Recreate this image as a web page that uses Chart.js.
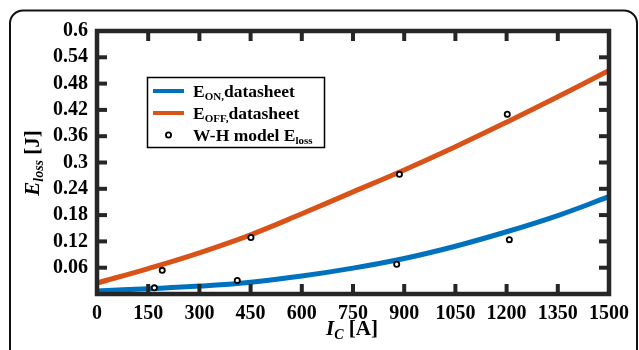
<!DOCTYPE html>
<html>
<head>
<meta charset="utf-8">
<script src="https://cdn.jsdelivr.net/npm/chart.js@4.4.1/dist/chart.umd.min.js"></script>
<style>
  html, body { margin: 0; padding: 0; background: #ffffff; }
  #wrap { width: 639px; height: 350px; position: relative; }
</style>
</head>
<body>
<div id="wrap"><canvas id="c" width="639" height="350"></canvas></div>
<script>
// Collector current grid [A] and switching-loss curves [J]
const currentGrid   = [0, 150, 300, 450, 600, 750, 900, 1050, 1200, 1350, 1500];
const eOnDatasheet  = [0.007, 0.012, 0.018, 0.027, 0.041, 0.059, 0.081, 0.109, 0.142, 0.179, 0.222];
const eOffDatasheet = [0.025, 0.058, 0.094, 0.135, 0.183, 0.233, 0.283, 0.336, 0.392, 0.450, 0.510];

// W-H model loss estimates
const whCurrent = [168, 191, 411, 451, 878, 886, 1208, 1202];
const whLoss    = [0.014, 0.054, 0.031, 0.129, 0.068, 0.273, 0.124, 0.410];

// Axis ticks
const xTicks = [0, 150, 300, 450, 600, 750, 900, 1050, 1200, 1350, 1500];
const yTicks = [0, 0.06, 0.12, 0.18, 0.24, 0.3, 0.36, 0.42, 0.48, 0.54, 0.6];

const BLUE = '#0072BD';
const ORANGE = '#D95319';
const AXIS = '#262626';
const SERIF = "'Liberation Serif', 'Times New Roman', serif";

function toXY(xs, ys) { return xs.map((x, i) => ({ x: x, y: ys[i] })); }

// Draws a run of text pieces (for subscripts)
function drawRich(ctx, parts, x, y, align) {
  let total = 0;
  parts.forEach(p => { ctx.font = p.font; p.w = ctx.measureText(p.text).width; total += p.w; });
  let cx = align === 'left' ? x : x - total / 2;
  ctx.textAlign = 'left';
  ctx.textBaseline = 'alphabetic';
  parts.forEach(p => {
    ctx.font = p.font;
    ctx.fillText(p.text, cx, y + (p.dy || 0));
    cx += p.w;
  });
}

const framePlugin = {
  id: 'frame',
  beforeDraw(chart) {
    const ctx = chart.ctx;
    ctx.save();
    ctx.fillStyle = '#ffffff';
    ctx.fillRect(0, 0, chart.width, chart.height);
    // outer rounded panel
    ctx.strokeStyle = '#111111';
    ctx.lineWidth = 2;
    ctx.beginPath();
    ctx.roundRect(10, 10.5, 627, 380, 13);
    ctx.stroke();
    ctx.restore();
  },
  afterDatasetsDraw(chart) {
    const ctx = chart.ctx;
    const xs = chart.scales.x, ys = chart.scales.y;
    const L = xs.getPixelForValue(0), R = xs.getPixelForValue(1500);
    const T = ys.getPixelForValue(0.6), B = ys.getPixelForValue(0);
    ctx.save();
    ctx.strokeStyle = AXIS;
    ctx.fillStyle = AXIS;
    // inward tick marks on all four sides
    const tl = 10, tw = 4;
    xTicks.forEach(v => {
      if (v === 0 || v === 1500) return;
      const px = xs.getPixelForValue(v);
      ctx.fillRect(px - tw / 2, B - tl, tw, tl);
      ctx.fillRect(px - tw / 2, T, tw, tl);
    });
    yTicks.forEach(v => {
      if (v === 0 || v === 0.6) return;
      const py = ys.getPixelForValue(v);
      ctx.fillRect(L, py - tw / 2, tl, tw);
      ctx.fillRect(R - tl, py - tw / 2, tl, tw);
    });
    // box
    ctx.lineWidth = 4.5;
    ctx.beginPath();
    ctx.rect(L, T, R - L, B - T);
    ctx.stroke();
    ctx.restore();
  },
  afterDraw(chart) {
    const ctx = chart.ctx;
    ctx.save();
    // legend
    const lx = 147.5, ly = 77.5, lw = 177, lh = 70;
    ctx.fillStyle = '#ffffff';
    ctx.fillRect(lx, ly, lw, lh);
    ctx.strokeStyle = '#000000';
    ctx.lineWidth = 1.5;
    ctx.strokeRect(lx, ly, lw, lh);
    const rows = [91, 113, 135];
    ctx.lineWidth = 4;
    ctx.strokeStyle = BLUE;
    ctx.beginPath(); ctx.moveTo(153, rows[0]); ctx.lineTo(184, rows[0]); ctx.stroke();
    ctx.strokeStyle = ORANGE;
    ctx.beginPath(); ctx.moveTo(153, rows[1]); ctx.lineTo(184, rows[1]); ctx.stroke();
    ctx.strokeStyle = '#000000';
    ctx.fillStyle = '#ffffff';
    ctx.lineWidth = 1.8;
    ctx.beginPath(); ctx.arc(168.5, rows[2], 2.6, 0, Math.PI * 2); ctx.fill(); ctx.stroke();
    ctx.fillStyle = '#000000';
    const big = 'bold 17.5px ' + SERIF, sub = 'bold 11px ' + SERIF;
    drawRich(ctx, [{ text: 'E', font: big }, { text: 'ON,', font: sub, dy: 3 }, { text: 'datasheet', font: big }], 193, rows[0] + 6, 'left');
    drawRich(ctx, [{ text: 'E', font: big }, { text: 'OFF,', font: sub, dy: 3 }, { text: 'datasheet', font: big }], 193, rows[1] + 6, 'left');
    drawRich(ctx, [{ text: 'W-H model E', font: big }, { text: 'loss', font: sub, dy: 3 }], 193, rows[2] + 6, 'left');

    // axis titles
    const tBig = 'italic bold 21px ' + SERIF, tSub = 'italic bold 14px ' + SERIF, tUp = 'bold 21px ' + SERIF;
    drawRich(ctx, [{ text: 'I', font: tBig }, { text: 'C', font: tSub, dy: 4 }, { text: ' [A]', font: tUp }], 352, 335, 'center');
    ctx.translate(39, 163);
    ctx.rotate(-Math.PI / 2);
    drawRich(ctx, [{ text: 'E', font: tBig }, { text: 'loss', font: tSub, dy: 4 }, { text: ' [J]', font: tUp }], 0, 0, 'center');
    ctx.restore();
  }
};

new Chart(document.getElementById('c'), {
  type: 'line',
  data: {
    datasets: [
      {
        label: 'W-H model Eloss',
        data: toXY(whCurrent, whLoss),
        showLine: false,
        pointRadius: 2.6,
        pointBorderWidth: 1.8,
        pointBorderColor: '#000000',
        pointBackgroundColor: '#ffffff',
        order: 0
      },
      {
        label: 'EON,datasheet',
        data: toXY(currentGrid, eOnDatasheet),
        borderColor: BLUE,
        borderWidth: 5,
        pointRadius: 0,
        tension: 0.4,
        order: 1
      },
      {
        label: 'EOFF,datasheet',
        data: toXY(currentGrid, eOffDatasheet),
        borderColor: ORANGE,
        borderWidth: 5,
        pointRadius: 0,
        tension: 0.4,
        order: 2
      }
    ]
  },
  options: {
    responsive: false,
    animation: false,
    devicePixelRatio: 1,
    layout: { padding: { top: 31, right: 30, left: 0, bottom: 0 } },
    plugins: { legend: { display: false }, tooltip: { enabled: false } },
    scales: {
      x: {
        type: 'linear',
        min: 0, max: 1500,
        afterFit(s) { s.height = 56; },
        afterBuildTicks(s) { s.ticks = xTicks.map(v => ({ value: v })); },
        grid: { display: false, drawTicks: false },
        border: { display: false },
        ticks: {
          color: '#000000', font: { family: SERIF, size: 20, weight: 'bold' }, padding: 8, maxRotation: 0, autoSkip: false,
          callback: v => String(v)
        }
      },
      y: {
        min: 0, max: 0.6,
        afterFit(s) { s.width = 97; },
        afterBuildTicks(s) { s.ticks = yTicks.map(v => ({ value: v })); },
        grid: { display: false, drawTicks: false },
        border: { display: false },
        ticks: {
          color: '#000000', font: { family: SERIF, size: 20, weight: 'bold' }, padding: 9, autoSkip: false,
          callback: v => (v === 0 ? '' : String(parseFloat(v.toFixed(2))))
        }
      }
    }
  },
  plugins: [framePlugin]
});
</script>
</body>
</html>
